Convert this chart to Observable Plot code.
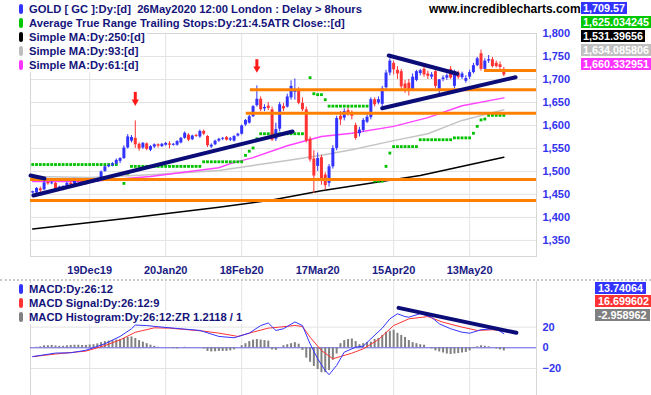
<!DOCTYPE html>
<html><head><meta charset="utf-8">
<script src="https://cdn.jsdelivr.net/npm/d3@7"></script>
<script src="https://cdn.jsdelivr.net/npm/@observablehq/plot@0.6"></script>
<style>
body{margin:0;background:#fff;}
#wrap{position:relative;width:651px;height:395px;overflow:hidden;font-family:"Liberation Sans",Arial,sans-serif;font-weight:bold;font-size:11px;}
#wrap svg{position:absolute;left:0;}
.leg{position:absolute;left:19px;height:13px;line-height:13px;font-size:11.2px;color:#14147a;white-space:pre;background:#fff;padding-right:2px}
.leg i{display:inline-block;width:4px;height:10px;border-radius:2px;margin-right:6px;vertical-align:-1px}
.box{position:absolute;color:#fff;height:12px;line-height:12px;font-size:10.8px;white-space:nowrap}
</style></head><body><div id="wrap"></div>
<script>
// ---- price bars (daily, 28Nov19 .. 26May20) ----
const opens  = [1453,1453,1462,1460,1476,1473,1474,1459,1461,1464,1474,1472,1481,1479,1478,1476,1479,1478,1485,1500,1510,1513,1516,1522,1528,1551,1566,1572,1559,1551,1560,1546,1553,1558,1554,1557,1560,1557,1557,1562,1572,1579,1569,1578,1575,1587,1576,1553,1558,1566,1570,1574,1568,1566,1577,1581,1601,1605,1619,1643,1657,1636,1642,1634,1570,1592,1641,1640,1660,1672,1678,1648,1634,1570,1527,1511,1530,1492,1474,1510,1550,1620,1616,1632,1627,1600,1582,1589,1607,1617,1656,1649,1646,1682,1714,1735,1720,1717,1690,1692,1678,1698,1713,1722,1712,1705,1717,1674,1700,1703,1722,1685,1714,1704,1696,1705,1715,1730,1756,1722,1740,1743,1735,1732,1722];
const highs  = [1457,1465,1466,1478,1479,1478,1476,1468,1469,1477,1478,1485,1483,1482,1480,1481,1481,1485,1501,1512,1516,1519,1527,1530,1556,1580,1578,1610,1562,1563,1562,1556,1560,1560,1561,1563,1565,1561,1567,1574,1586,1582,1579,1581,1590,1590,1578,1560,1568,1572,1574,1576,1574,1578,1583,1601,1613,1622,1643,1686,1662,1645,1650,1640,1605,1650,1648,1668,1697,1701,1682,1660,1640,1575,1545,1540,1535,1497,1515,1556,1620,1630,1636,1638,1632,1605,1596,1615,1625,1660,1660,1662,1685,1720,1745,1740,1728,1722,1698,1700,1712,1720,1722,1728,1718,1715,1720,1700,1708,1712,1728,1720,1718,1716,1708,1720,1735,1748,1764,1745,1752,1748,1740,1738,1726];
const lows   = [1451,1451,1452,1458,1470,1471,1457,1457,1458,1462,1468,1470,1476,1475,1470,1474,1475,1476,1483,1498,1508,1510,1514,1517,1526,1549,1562,1550,1544,1548,1545,1543,1550,1551,1552,1555,1549,1555,1555,1560,1570,1565,1567,1574,1572,1578,1552,1550,1556,1563,1567,1566,1565,1564,1575,1579,1598,1603,1617,1640,1630,1630,1632,1565,1565,1586,1630,1638,1655,1655,1645,1630,1562,1520,1452,1500,1470,1460,1466,1505,1545,1600,1610,1620,1612,1568,1575,1585,1604,1612,1640,1645,1641,1678,1708,1710,1700,1678,1670,1664,1675,1695,1708,1705,1700,1700,1680,1668,1695,1698,1700,1680,1700,1700,1692,1700,1712,1728,1718,1718,1735,1725,1725,1722,1706];
const closes = [1456,1463,1458,1475,1473,1475,1459,1466,1467,1474,1471,1482,1478,1477,1474,1479,1477,1483,1499,1510,1513,1516,1524,1528,1551,1575,1574,1558,1549,1561,1548,1554,1558,1555,1559,1561,1557,1559,1565,1572,1583,1568,1577,1576,1587,1581,1556,1557,1566,1570,1572,1568,1571,1576,1581,1599,1611,1619,1641,1657,1634,1639,1637,1568,1591,1645,1636,1662,1685,1676,1648,1634,1566,1525,1490,1528,1478,1469,1510,1550,1615,1612,1630,1625,1620,1572,1590,1611,1618,1656,1645,1656,1680,1714,1740,1721,1712,1684,1680,1675,1705,1717,1719,1710,1707,1710,1685,1699,1703,1708,1703,1717,1704,1712,1702,1715,1730,1745,1722,1740,1743,1728,1728,1726,1709.6];

// ---- Average True Range trailing stop (one per bar, null = none) ----
const atrStop = [1515,1515,1515,1515,1515,1515,1515,1515,1515,1515,1515,1515,1515,1515,1515,1515,1515,1515,1515,1515,1515,1515,1515,null,1474,1496,
1511,1511,1511,1511,1511,1511,1511,1511,1511,1511,1511,1511,1511,1511,1511,1511,1511,1511,1511,
1521,1521,1521,1521,1521,1521,1521,1521,1521,1521,1521,1535,1544,1551,1571,
1582,1582,1582,1582,1582,1582,1582,1582,1582,1582,1582,1582,null,1704,1669,1667,1667,1656,
1642,1642,1642,1642,1642,1642,1642,1642,1642,1642,1642,null,1479,1479,1479,1511,1540,
1554,1554,1554,1554,1554,1554,1554,1569,1569,1569,1569,1569,1569,1569,1569,1569,
1573,1573,1573,1573,1573,1583,1598,1612,1614,1622,1622,1622,1622,1622];

// ---- moving averages (read at sample bars) ----
const ma250Bars = [0,25,49,63,76,102,124];
const ma250Vals = [1375,1398,1422,1438,1458,1491,1531];
const ma93Bars  = [0,15,31,49,58,67,76,84,95,104,113,124];
const ma93Vals  = [1489,1487,1493,1502,1513,1524,1535,1547,1567,1582,1611,1634];
const ma61Bars  = [0,15,31,49,52,58,67,76,84,95,104,113,124];
const ma61Vals  = [1478,1478,1489,1508,1517,1530,1556,1576,1583,1598,1617,1643,1660];

// ---- annotations ----
const supportLevels = [1677.5,1626.7,1482.5,1436.8,1719.5];
const supportFrom   = [57.3,56.2,-0.58,-0.58,118.9];
const trendFromBar  = [-0.58,0.2,93.7,92];
const trendToBar    = [3.1,68.4,111.7,127.1];
const trendFromVal  = [1491,1447.7,1752.1,1637.5];
const trendToVal    = [1484.6,1586.9,1712.4,1704.9];
const arrowBars = [27,59];
const arrowTop  = [1672,1743];
const arrowTip  = [1643,1715];

// ---- MACD ----
const macdBars = [0,6,10,14,19,23,26,27,30,34,39,44,49,53,57,60,62,64,66,69,71,73,75,77,78,80,82,85,87,89,92,94,96,98,99,102,105,107,110,113,115,118,121,122,124];
const macdVals = [-8.5,-5.1,-4.8,-2.4,3.9,11,18.4,22,21.5,20,18.4,16.8,11,9.7,14.2,21.5,24,16.8,18.4,25,21.5,3.9,-10.6,-22,-26,-17,-4.2,0.6,1.6,8.7,19,28,32.9,30.2,29.6,33,29.6,23.2,18.4,15.1,14.1,17.4,18.4,18.4,13.7];
const sigBars = [0,6,14,19,23,27,32,36,41,45,49,54,58,62,65,69,71,73,76,79,81,84,87,91,95,99,104,108,113,117,121,124];
const sigVals = [-8.5,-6,-3.2,2.2,7.7,15,19.3,19,17.4,16.1,14.2,11,15.2,19,20,21.6,20.6,10.3,-2.6,-10.6,-8.4,-5.2,-1,8,21.5,28,30.2,24.7,20,16.8,17.4,16.7];
const histVals = [0,0.5,1,2,2,2.3,1.8,1.5,1.5,2, 2.3,2.5,2.5,2.2,2.3,2.8,3,3.8,5,6, 6.5,7,7.5,8,9,10,10.5,9,7,5.5, 4,2.5,1.5,0.5,0,0,0.3,-0.8,-1,0, 0.5,-0.3,0,0.2,0,-1,-3.5,-4,-3.8,-3.5, -3.5,-3.5,-3,-2,0,2,4,6,7.5,8, 7.5,7,6.5,-2,-2.5,0,2,3,4,5, 3.5,-2.5,-10,-14,-18,-21,-24,-24,-22,-12, -6,4,7,8,8.5,6,3,4,5,5.5, 8,9,12,15,16,17,14,12,10,7, 5,4,3,2.5,0,-1,-3,-4,-5,-6, -6.5,-6,-5.5,-5,-4.5,-3,-0.5,1,2,1.5, 1,0,-1,-2,-3];
const macdTrendBars = [96.3,127.3];
const macdTrendVals = [38.6,14.5];

// ---- axes ----
const tickBars = [15,35,55,75,95,115];
const tickLabels = ["19Dec19","20Jan20","18Feb20","17Mar20","15Apr20","13May20"];
const priceTicks = [1350,1400,1450,1500,1550,1600,1650,1700,1750,1800];
const macdTicks = [20,0,-20];

// ---- legends / value boxes ----
const legendMain = ["GOLD [ GC ]:Dy:[d]  26May2020 12:00 London : Delay > 8hours","Average True Range Trailing Stops:Dy:21:4.5ATR Close::[d]","Simple MA:Dy:250:[d]","Simple MA:Dy:93:[d]","Simple MA:Dy:61:[d]"];
const legendMainColors = ["#3333ff","#00c800","#000000","#bdbdbd","#ff33ff"];
const valueMain = ["1,709.57","1,625.034245","1,531.39656","1,634.085806","1,660.332951"];
const legendMacd = ["MACD:Dy:26:12","MACD Signal:Dy:26:12:9","MACD Histogram:Dy:26:12:ZR 1.2118 / 1"];
const legendMacdColors = ["#3333ff","#ff3333","#808080"];
const valueMacd = ["13.74064","16.699602","-2.958962"];

// ================= build =================
const BLUE = "#3333ff", RED = "#ff3333", GRID = "#e3e3e3";
const xDom = [-0.58, 132.6];
const bars = opens.map((o, i) => ({i, o, h: highs[i], l: lows[i], c: closes[i]}));
const up = bars.filter(d => d.c >= d.o), dn = bars.filter(d => d.c < d.o);
const stops = atrStop.map((v, i) => ({i, v})).filter(d => d.v != null);
const toPts = (bs, vs) => bs.map((b, k) => ({b, v: vs[k]}));
const supports = supportLevels.map((p, k) => ({p, from: supportFrom[k]}));
const trends = trendFromBar.flatMap((b, k) => [{k, b, v: trendFromVal[k]}, {k, b: trendToBar[k], v: trendToVal[k]}]);
const arrows = arrowBars.map((b, k) => ({b, top: arrowTop[k], tip: arrowTip[k]}));
const hist = histVals.map((v, i) => ({i, v}));
const fontStyle = {fontFamily: "'Liberation Sans', Arial, sans-serif", fontSize: "11px", fontWeight: "bold", background: "transparent", overflow: "visible"};

const main = Plot.plot({
  width: 651, height: 278, marginTop: 33, marginBottom: 22, marginLeft: 30, marginRight: 115,
  x: {domain: xDom, axis: null, label: null},
  y: {domain: [1315, 1800], axis: null, label: null},
  style: fontStyle,
  marks: [
    Plot.ruleY(priceTicks, {stroke: GRID}),
    Plot.ruleX(tickBars, {stroke: GRID}),
    Plot.frame({stroke: "#d6d6d6"}),
    Plot.line(toPts(ma250Bars, ma250Vals), {x: "b", y: "v", stroke: "#000", strokeWidth: 1.5}),
    Plot.line(toPts(ma93Bars, ma93Vals), {x: "b", y: "v", stroke: "#c4c4c4", strokeWidth: 1.5}),
    Plot.line(toPts(ma61Bars, ma61Vals), {x: "b", y: "v", stroke: "#ff44ff", strokeWidth: 1.5}),
    Plot.dot(stops, {x: "i", y: "v", symbol: "square", r: 1.6, fill: "#00c000", stroke: null}),
    Plot.ruleX(up, {x: "i", y1: "l", y2: "h", stroke: BLUE, strokeWidth: 1}),
    Plot.ruleX(dn, {x: "i", y1: "l", y2: "h", stroke: RED, strokeWidth: 1}),
    Plot.ruleX(up, {x: "i", y1: "o", y2: "c", stroke: BLUE, strokeWidth: 3}),
    Plot.ruleX(dn, {x: "i", y1: "o", y2: "c", stroke: RED, strokeWidth: 3}),
    Plot.ruleY(supports, {y: "p", x1: "from", x2: xDom[1], stroke: "#ff8000", strokeWidth: 3}),
    Plot.line(trends, {x: "b", y: "v", z: "k", stroke: "#0c0c78", strokeWidth: 4}),
    Plot.ruleX(arrows, {x: "b", y1: "top", y2: "tip", stroke: "#ff1a1a", strokeWidth: 3, insetBottom: 5}),
    Plot.dot(arrows, {x: "b", y: "tip", symbol: "triangle", rotate: 180, r: 2.7, fill: "#ff1a1a", stroke: null, dy: -4}),
    Plot.axisY(priceTicks, {anchor: "right", label: null, tickSize: 0, tickPadding: 6, tickFormat: d3.format(","), color: "#3333ee"}),
    Plot.axisX(tickBars, {anchor: "bottom", label: null, tickSize: 0, tickPadding: 10, tickFormat: d => tickLabels[tickBars.indexOf(d)], color: "#1b1b84"})
  ]
});

const macd = Plot.plot({
  width: 651, height: 114, marginTop: 0, marginBottom: 0, marginLeft: 30, marginRight: 115,
  x: {domain: xDom, axis: null, label: null},
  y: {domain: [-46.1, 64.1], axis: null, label: null},
  style: fontStyle,
  marks: [
    Plot.ruleY([20, -20], {stroke: GRID}),
    Plot.ruleX(tickBars, {stroke: GRID}),
    Plot.ruleX(xDom, {stroke: "#d6d6d6"}),
    Plot.ruleY([0], {stroke: "#5a5ae0", strokeWidth: 1}),
    Plot.ruleX(hist, {x: "i", y1: 0, y2: "v", stroke: "#808080", strokeWidth: 2}),
    Plot.line(toPts(sigBars, sigVals), {x: "b", y: "v", stroke: RED, strokeWidth: 1}),
    Plot.line(toPts(macdBars, macdVals), {x: "b", y: "v", stroke: BLUE, strokeWidth: 1}),
    Plot.line(toPts(macdTrendBars, macdTrendVals), {x: "b", y: "v", stroke: "#0c0c78", strokeWidth: 4}),
    Plot.axisY(macdTicks, {anchor: "right", label: null, tickSize: 0, tickPadding: 6, color: "#3333ee"})
  ]
});

const wrap = document.getElementById("wrap");
main.style.top = "0px";
macd.style.top = "281px";
wrap.appendChild(main);
wrap.appendChild(macd);

const sep = document.createElement("div");
sep.style.cssText = "position:absolute;left:0;top:279px;width:651px;border-top:2px dotted #c8c8c8;";
wrap.appendChild(sep);

const wm = document.createElement("div");
wm.textContent = "www.incrediblecharts.com";
wm.style.cssText = "position:absolute;left:429px;top:2px;font-size:12px;color:#000;line-height:14px;";
wrap.appendChild(wm);

function legend(texts, colors, top0, step) {
  texts.forEach((t, k) => {
    const d = document.createElement("div");
    d.className = "leg";
    d.style.top = (top0 + k * step) + "px";
    const m = document.createElement("i");
    m.style.background = colors[k];
    d.appendChild(m);
    d.appendChild(document.createTextNode(t));
    wrap.appendChild(d);
  });
}
legend(legendMain, legendMainColors, 3, 14);
legend(legendMacd, legendMacdColors, 283, 14);

function boxes(texts, colors, left, top0, step, pad) {
  texts.forEach((t, k) => {
    const b = document.createElement("div");
    b.className = "box";
    b.textContent = t;
    b.style.left = left + "px";
    b.style.top = (top0 + k * step) + "px";
    b.style.background = colors[k];
    b.style.padding = "0 " + pad + "px";
    wrap.appendChild(b);
  });
}
boxes(valueMain, legendMainColors.map((c, k) => k === 3 ? "#c0c0c0" : c), 581, 1.5, 14, 2);
boxes(valueMacd, legendMacdColors, 595, 281.5, 13.5, 3);
</script></body></html>
